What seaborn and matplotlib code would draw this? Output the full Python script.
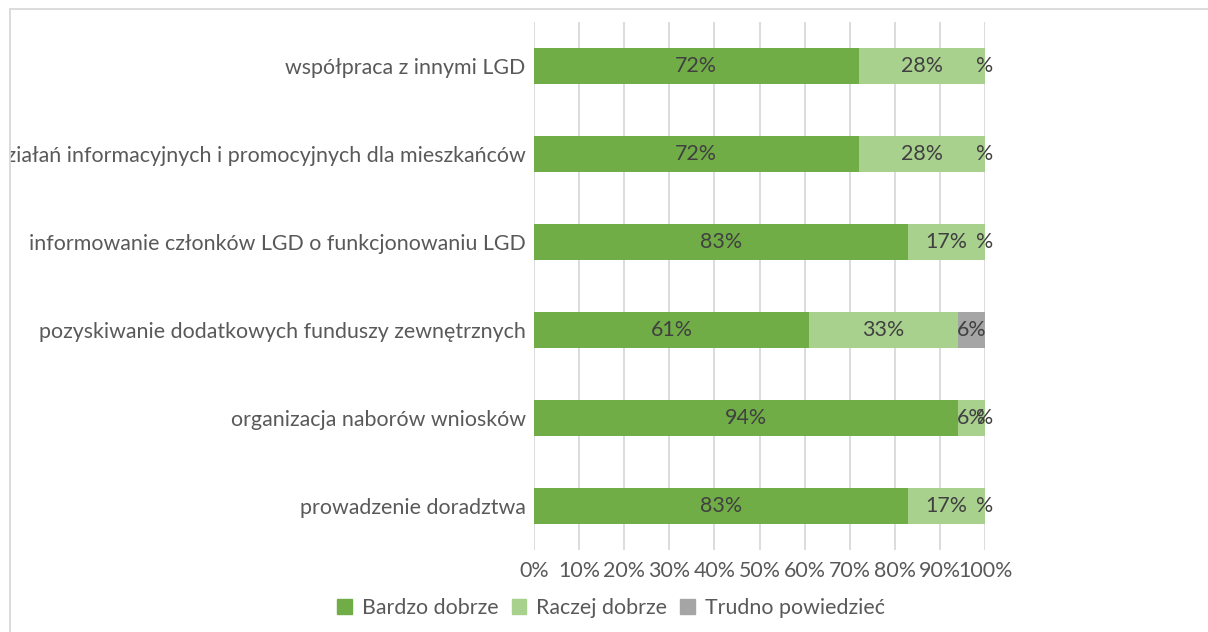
import matplotlib
matplotlib.use("Agg")
import matplotlib.pyplot as plt
import seaborn as sns
import pandas as pd
import numpy as np
from matplotlib.lines import Line2D
from matplotlib.transforms import Bbox

categories = [
    "współpraca z innymi LGD",
    "prowadzenie działań informacyjnych i promocyjnych dla mieszkańców",
    "informowanie członków LGD o funkcjonowaniu LGD",
    "pozyskiwanie dodatkowych funduszy zewnętrznych",
    "organizacja naborów wniosków",
    "prowadzenie doradztwa",
]
bardzo_dobrze = [72, 72, 83, 61, 94, 83]
raczej_dobrze = [28, 28, 17, 33, 6, 17]
trudno_powiedziec = [0, 0, 0, 6, 0, 0]
series_names = ["Bardzo dobrze", "Raczej dobrze", "Trudno powiedzieć"]
colors = ["#70AD47", "#A9D18E", "#A5A5A5"]
xticks = [0, 10, 20, 30, 40, 50, 60, 70, 80, 90, 100]

sns.set_style("white")
plt.rcParams["font.family"] = ["Lato", "DejaVu Sans"]

W, H = 1208, 632
FS = 15.4
fig = plt.figure(figsize=(W / 100, H / 100), dpi=100)
ax = fig.add_axes([534 / W, 1 - 550 / H, (985 - 534) / W, (550 - 22) / H])

df = pd.DataFrame({
    "cat": categories,
    "b": bardzo_dobrze,
    "r": raczej_dobrze,
    "t": trudno_powiedziec,
})
df["c1"] = df["b"]
df["c2"] = df["b"] + df["r"]
df["c3"] = df["b"] + df["r"] + df["t"]

for col, color in zip(["c3", "c2", "c1"], colors[::-1]):
    sns.barplot(data=df, x=col, y="cat", orient="h", color=color,
                width=0.41, saturation=1, ax=ax, linewidth=0, zorder=3)

ax.set_xlim(0, 100)
ax.set_ylim(5.5, -0.5)
ax.set_xticks(xticks)
ax.set_xticklabels([f"{v}%" for v in xticks])
ax.set_xlabel("")
ax.set_ylabel("")
ax.grid(axis="x", color="#D9D9D9", linewidth=1.3, zorder=0)
ax.grid(axis="y", visible=False)
for s in ax.spines.values():
    s.set_visible(False)
ax.tick_params(axis="both", length=0, labelsize=FS, labelcolor="#595959")
ax.tick_params(axis="x", pad=8)
ax.tick_params(axis="y", pad=6)

# clip y labels at the chart border
clipbox = Bbox.from_extents(10, 0, W, H)
for lab in ax.get_yticklabels():
    lab.set_clip_on(True)
    lab.set_clip_box(clipbox)

# data labels
for i in range(len(categories)):
    segs = [(0, bardzo_dobrze[i]),
            (bardzo_dobrze[i], raczej_dobrze[i]),
            (bardzo_dobrze[i] + raczej_dobrze[i], trudno_powiedziec[i])]
    for left, val in segs:
        txt = f"{val}%" if val > 0 else "%"
        ax.text(left + val / 2, i, txt, ha="center", va="center",
                fontsize=FS, color="#404040", zorder=5)

# legend
handles = [plt.Rectangle((0, 0), 1, 1, color=c) for c in colors]
fig.legend(handles, series_names, loc="center", bbox_to_anchor=(611 / W, 1 - 608 / H),
           ncol=3, frameon=False, fontsize=FS, labelcolor="#595959",
           handlelength=0.7, handleheight=0.7, handletextpad=0.45, columnspacing=0.6)

# chart border (top and left)
fig.add_artist(Line2D([10 / W, 1], [1 - 9 / H, 1 - 9 / H], color="#D9D9D9", linewidth=1.3))
fig.add_artist(Line2D([10 / W, 10 / W], [0, 1 - 9 / H], color="#D9D9D9", linewidth=1.3))

fig.savefig("out.png", dpi=100)
